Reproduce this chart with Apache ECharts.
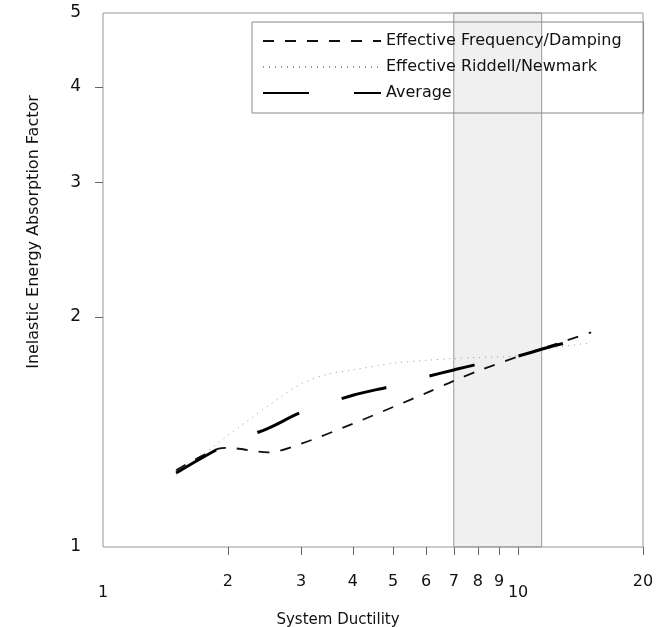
<!DOCTYPE html>
<html>
<head>
<meta charset="utf-8">
<script src="https://cdn.jsdelivr.net/npm/echarts@6/dist/echarts.min.js"></script>
<style>
  html, body { margin: 0; padding: 0; background: #fff; }
  #main { width: 666px; height: 627px; }
</style>
</head>
<body>
<div id="main"></div>
<script>
// 曲线数据 (x = system ductility, y = absorption factor)
var freqX = [1.5, 1.9, 2, 2.5, 3, 4, 5, 6, 7, 8, 10, 12, 15];
var freqY = [1.26, 1.345, 1.348, 1.33, 1.365, 1.45, 1.525, 1.59, 1.65, 1.70, 1.775, 1.835, 1.91];

var riddellX = [1.5, 2, 2.5, 3, 3.5, 4, 5, 6, 7, 8, 10, 12, 15];
var riddellY = [1.24, 1.40, 1.53, 1.635, 1.685, 1.705, 1.74, 1.755, 1.765, 1.77, 1.78, 1.82, 1.85];

var avgX = [1.5, 2, 2.5, 3, 4, 5, 6, 7, 8, 10, 12, 13];
var avgY = [1.25, 1.365, 1.43, 1.50, 1.58, 1.625, 1.67, 1.705, 1.735, 1.778, 1.83, 1.85];

// 刻度
var xTickLabels = [1, 2, 3, 4, 5, 6, 7, 8, 9, 10, 20];
var yTickLabels = [1, 2, 3, 4, 5];

// 阴影区间
var bandRange = [7, 11.4];

var names = ['Effective Frequency/Damping', 'Effective Riddell/Newmark', 'Average'];

function pairs(xs, ys) {
  return xs.map(function (x, i) { return [x, ys[i]]; });
}

var font = 'DejaVu Sans';
var chart = echarts.init(document.getElementById('main'));

var option = {
  backgroundColor: '#fff',
  animation: false,
  textStyle: { fontFamily: font, color: '#111' },
  grid: {
    left: 103, right: 23, top: 13, bottom: 80,
    containLabel: false,
    outerBoundsMode: 'none',
    show: true, borderColor: '#999', borderWidth: 1
  },
  legend: {
    orient: 'vertical',
    left: 252,
    top: 22,
    padding: [11, 22, 12, 10],
    itemGap: 10,
    itemWidth: 118,
    itemHeight: 2,
    itemStyle: { opacity: 0 },
    borderColor: '#888',
    borderWidth: 1,
    textStyle: { fontFamily: font, fontSize: 16, color: '#111' },
    data: names
  },
  // log axes carry the data, value axes only draw ticks and labels
  xAxis: [
    { type: 'log', logBase: 10, min: 1, max: 20, show: false },
    {
      type: 'value', min: 0, max: Math.log10(20), position: 'bottom',
      axisLine: { show: false },
      splitLine: { show: false },
      axisTick: {
        show: true, length: 8, lineStyle: { color: '#666' },
        customValues: xTickLabels.slice(1).map(Math.log10)
      },
      axisLabel: {
        margin: 27, fontSize: 16, color: '#111', fontFamily: font,
        customValues: xTickLabels.map(Math.log10),
        formatter: function (v) {
          var n = Math.round(Math.pow(10, v));
          if (n === 1 || n === 10) return '{low|' + n + '}';
          return '' + n;
        },
        rich: { low: { lineHeight: 38, fontSize: 16, fontFamily: font, color: '#111' } }
      },
      name: 'System Ductility',
      nameLocation: 'middle',
      nameGap: 66,
      nameTextStyle: { fontSize: 15, color: '#111', fontFamily: font, padding: [0, 70, 0, 0] }
    }
  ],
  yAxis: [
    { type: 'log', logBase: 10, min: 1, max: 5, show: false },
    {
      type: 'value', min: 0, max: Math.log10(5), position: 'left',
      axisLine: { show: false },
      splitLine: { show: false },
      axisTick: {
        show: true, length: 8, lineStyle: { color: '#666' },
        customValues: yTickLabels.slice(1, 4).map(Math.log10)
      },
      axisLabel: {
        margin: 22, fontSize: 17, color: '#111', fontFamily: font,
        customValues: yTickLabels.map(Math.log10),
        formatter: function (v) { return '' + Math.round(Math.pow(10, v)); }
      },
      name: 'Inelastic Energy Absorption Factor',
      nameLocation: 'middle',
      nameGap: 61,
      nameTextStyle: { fontSize: 16, color: '#111', fontFamily: font, padding: [0, 0, 0, 96] }
    }
  ],
  series: [
    {
      name: names[0],
      type: 'line',
      data: pairs(freqX, freqY),
      symbol: 'none',
      smooth: 0.3,
      lineStyle: { color: '#111', width: 1.8, type: [11, 11] },
      itemStyle: { color: '#111' },
      markArea: {
        silent: true,
        itemStyle: { color: 'rgba(0,0,0,0.06)', borderColor: '#999', borderWidth: 1 },
        data: [[{ xAxis: bandRange[0] }, { xAxis: bandRange[1] }]]
      },
      z: 3
    },
    {
      name: names[1],
      type: 'line',
      data: pairs(riddellX, riddellY),
      symbol: 'none',
      smooth: 0.3,
      lineStyle: { color: '#999', width: 1, type: [1, 5] },
      itemStyle: { color: '#999' },
      z: 2
    },
    {
      name: names[2],
      type: 'line',
      data: pairs(avgX, avgY),
      symbol: 'none',
      smooth: 0.3,
      lineStyle: { color: '#000', width: 3, type: [46, 45] },
      itemStyle: { color: '#000' },
      z: 4
    }
  ]
};

chart.setOption(option);
</script>
</body>
</html>
